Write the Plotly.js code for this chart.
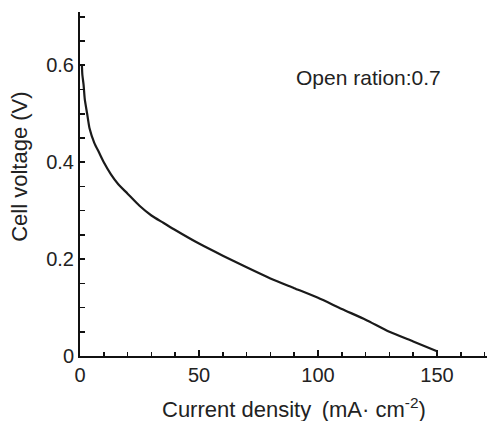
<!DOCTYPE html>
<html>
<head>
<meta charset="utf-8">
<script src="https://cdn.plot.ly/plotly-3.0.1.min.js"></script>
<style>html,body{margin:0;padding:0;background:#fff}#chart{width:490px;height:421px}</style>
</head>
<body>
<div id="chart"></div>
<script>
var currentDensity = [0.8, 1, 1.5, 2, 3, 4, 6, 8, 10, 13, 16, 20, 25, 30, 35, 40, 50, 60, 70, 80, 90, 100, 110, 120, 130, 140, 150];
var cellVoltage = [0.60, 0.58, 0.56, 0.53, 0.50, 0.47, 0.44, 0.42, 0.40, 0.375, 0.355, 0.335, 0.31, 0.29, 0.275, 0.26, 0.232, 0.207, 0.183, 0.16, 0.14, 0.12, 0.097, 0.075, 0.05, 0.03, 0.01];
var xTicks = [0, 50, 100, 150];
var yTicks = [0, 0.2, 0.4, 0.6];
var yTickLabels = ['0', '0.2', '0.4', '0.6'];
var xTitle = 'Current density\u2009 (mA\u00b7 cm<sup>-2</sup>)';
var yTitle = 'Cell voltage (V)';
var note = 'Open ration:0.7';

var fam = 'Liberation Sans, Arial, sans-serif';
var tickFont = {family: fam, size: 20, color: '#222'};
var titleFont = {family: fam, size: 22, color: '#222'};
var trace = {
  x: currentDensity, y: cellVoltage, mode: 'lines', type: 'scatter',
  line: {color: '#1a1a1a', width: 2.2, shape: 'spline', smoothing: 0.6},
  hoverinfo: 'none'
};
var layout = {
  width: 490, height: 421,
  margin: {l: 80, r: 3, t: 12, b: 65},
  paper_bgcolor: '#fff', plot_bgcolor: '#fff',
  showlegend: false,
  font: tickFont,
  xaxis: {
    range: [0, 171], tickvals: xTicks, ticktext: xTicks.map(String),
    ticks: 'inside', ticklen: 6, tickwidth: 2, tickcolor: '#111',
    minor: {dtick: 10, ticks: 'inside', ticklen: 4, tickwidth: 1.5, tickcolor: '#111'},
    showline: true, linecolor: '#111', linewidth: 2, showgrid: false, zeroline: false,
    tickfont: tickFont
  },
  yaxis: {
    range: [0, 0.71], tickvals: yTicks, ticktext: yTickLabels,
    ticks: 'inside', ticklen: 5, tickwidth: 2, tickcolor: '#111',
    minor: {dtick: 0.05, ticks: 'inside', ticklen: 5, tickwidth: 1.5, tickcolor: '#111'},
    showline: true, linecolor: '#111', linewidth: 2, showgrid: false, zeroline: false,
    tickfont: tickFont
  },
  annotations: [{
    text: note, xref: 'paper', yref: 'paper',
    x: 0.893, y: 0.809, xanchor: 'right', yanchor: 'middle',
    showarrow: false, font: {family: fam, size: 21, color: '#222'}
  }, {
    text: xTitle, xref: 'paper', yref: 'paper',
    x: 0.526, y: 0, yshift: -52, xanchor: 'center', yanchor: 'middle',
    showarrow: false, font: titleFont
  }, {
    text: yTitle, xref: 'paper', yref: 'paper', textangle: -90,
    x: 0, xshift: -60, y: 0.55, xanchor: 'center', yanchor: 'middle',
    showarrow: false, font: titleFont
  }]
};
Plotly.newPlot('chart', [trace], layout, {displayModeBar: false, staticPlot: true});
</script>
</body>
</html>
